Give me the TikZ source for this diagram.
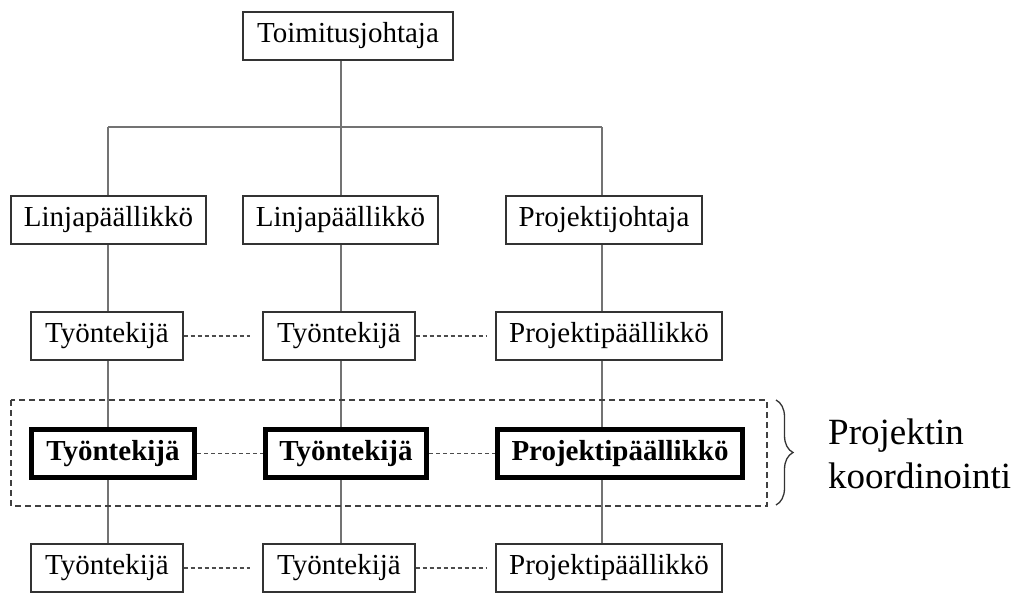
\documentclass[tikz,border=0pt]{standalone}
\usepackage{fontspec}
\setmainfont{Liberation Serif}
\usetikzlibrary{backgrounds,decorations.pathreplacing}

\tikzset{
  unit/.style={draw=black!80, line width=1.4pt, fill=white, inner sep=0pt,
    font=\fontsize{29}{34}\selectfont, minimum height=48pt},
  keyunit/.style={draw=black, line width=5pt, fill=white, inner sep=0pt,
    font=\fontsize{29}{34}\selectfont\bfseries, minimum height=48pt},
  link/.style={draw=black!55, line width=1.8pt},
  peer/.style={draw=black!70, line width=1.2pt, dash pattern=on 4pt off 3pt},
  group/.style={draw=black!75, line width=1.4pt, dash pattern=on 6pt off 4pt},
}

\begin{document}
\begin{tikzpicture}[x=1pt, y=-1pt]
\useasboundingbox (0,0) rectangle (1025,594);

% column axes of the reporting lines
\coordinate (c1) at (108,0);
\coordinate (c2) at (341,0);
\coordinate (c3) at (602,0);
\coordinate (bar) at (0,127);

% top management
\node[unit, minimum width=210pt] (ceo) at (348,36) {Toimitusjohtaja};

% second level
\node[unit, minimum width=195pt] (lm1) at (108.5,220) {Linjapäällikkö};
\node[unit, minimum width=195pt] (lm2) at (340.5,220) {Linjapäällikkö};
\node[unit, minimum width=196pt] (pd)  at (604,220) {Projektijohtaja};

% third level
\node[unit, minimum width=152pt] (w1a) at (107,336) {Työntekijä};
\node[unit, minimum width=152pt] (w2a) at (339,336) {Työntekijä};
\node[unit, minimum width=226pt] (pma) at (609,336) {Projektipäällikkö};

% coordinating group
\draw[group] (11,400) rectangle (767,506);
\node[keyunit, minimum width=163pt] (w1b) at (113,453.5) {Työntekijä};
\node[keyunit, minimum width=161pt] (w2b) at (346,453.5) {Työntekijä};
\node[keyunit, minimum width=245pt] (pmb) at (620,453.5) {Projektipäällikkö};

% fifth level
\node[unit, minimum width=152pt] (w1c) at (107,568) {Työntekijä};
\node[unit, minimum width=152pt] (w2c) at (339,568) {Työntekijä};
\node[unit, minimum width=226pt] (pmc) at (609,568) {Projektipäällikkö};

% brace and its label
\coordinate (brTop) at (776,400);
\coordinate (brBot) at (776,505);
\draw[black!80, line width=1.3pt, decoration={brace, amplitude=17pt}, decorate]
  (brTop) -- (brBot);
\node[anchor=base west, inner sep=0pt, align=left,
      font=\fontsize{37}{44}\selectfont] (lbl) at (828,488)
  {Projektin\\koordinointi};

\begin{scope}[on background layer]
  % reporting lines
  \draw[link] (ceo.south -| c2) -- (bar -| c2);
  \draw[link] (bar -| c1) -- (bar -| c3);
  \draw[link] (bar -| c1) -- (lm1.north -| c1);
  \draw[link] (bar -| c2) -- (lm2.north -| c2);
  \draw[link] (bar -| c3) -- (pd.north -| c3);
  \draw[link] (lm1.south -| c1) -- (w1c.north -| c1);
  \draw[link] (lm2.south -| c2) -- (w2c.north -| c2);
  \draw[link] (pd.south -| c3) -- (pmc.north -| c3);
\end{scope}

% peer connections
\draw[peer, shorten >=12pt] (w1a) -- (w2a);
\draw[peer, shorten >=9pt]  (w2a) -- (pma);
\draw[peer] (w1b) -- (w2b);
\draw[peer] (w2b) -- (pmb);
\draw[peer, shorten >=12pt] (w1c) -- (w2c);
\draw[peer, shorten >=9pt]  (w2c) -- (pmc);
\end{tikzpicture}
\end{document}
